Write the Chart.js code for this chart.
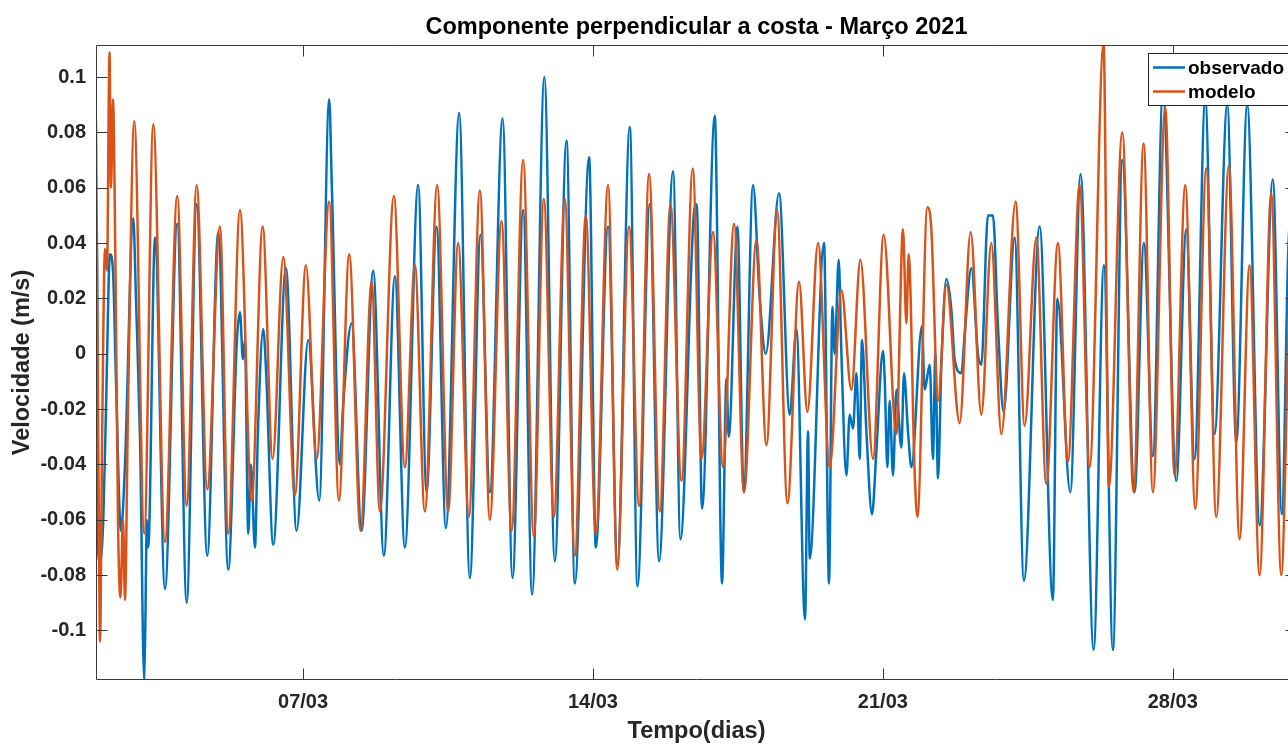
<!DOCTYPE html>
<html><head><meta charset="utf-8">
<script src="https://cdn.jsdelivr.net/npm/chart.js@4.4.1/dist/chart.umd.min.js"></script>
<style>html,body{margin:0;padding:0;overflow:hidden;background:#fff}#wrap{width:1300px;height:744px}</style>
</head><body><div id="wrap"><canvas id="c" width="1300" height="744"></canvas></div>
<script>
const titleText = 'Componente perpendicular a costa - Março 2021';
const xTitle = 'Tempo(dias)';
const yTitle = 'Velocidade (m/s)';
const seriesNames = ['observado', 'modelo'];
const xTickDays = [7, 14, 21, 28];
const xTickLabels = ['07/03', '14/03', '21/03', '28/03'];
const yTickValues = [-0.1, -0.08, -0.06, -0.04, -0.02, 0, 0.02, 0.04, 0.06, 0.08, 0.1];
const yTickLabels = ['-0.1', '-0.08', '-0.06', '-0.04', '-0.02', '0', '0.02', '0.04', '0.06', '0.08', '0.1'];

// observado (day of March, m/s)
const observadoDias = [2.000,2.024,2.048,2.097,2.176,2.241,2.338,2.410,2.483,2.603,
2.700,2.900,2.965,3.062,3.166,3.231,3.262,3.424,3.665,3.962,
4.189,4.431,4.686,4.952,5.193,5.403,5.476,5.548,5.596,5.676,
5.741,5.838,5.910,6.038,6.103,6.280,6.586,6.844,7.124,7.390,
7.631,7.696,7.889,7.962,8.172,8.413,8.693,8.951,9.217,9.458,
9.779,9.982,10.223,10.448,10.769,11.027,11.285,11.510,11.817,12.058,
12.314,12.531,12.826,13.079,13.361,13.562,13.907,14.069,14.365,14.592,
14.889,15.075,15.372,15.596,15.934,16.113,16.434,16.506,16.634,16.941,
17.117,17.223,17.279,17.489,17.641,17.865,18.027,18.172,18.493,18.751,
18.913,19.120,19.193,19.234,19.579,19.700,19.782,19.837,
19.934,19.999,20.120,20.199,20.279,20.361,20.441,20.496,20.602,20.738,
20.844,21.003,21.044,21.109,21.165,21.244,21.327,21.447,21.510,21.607,
21.689,21.945,22.010,22.131,22.210,22.268,22.331,22.413,22.534,22.654,
22.734,22.895,22.975,23.137,23.296,23.378,23.537,23.658,23.779,
23.916,24.182,24.406,
24.785,25.106,25.212,25.526,25.775,26.089,26.337,26.554,26.781,27.078,
27.303,27.520,27.761,28.085,28.326,28.527,28.785,29.009,29.316,29.533,
29.798,30.099,30.416,30.634,30.796,30.964];
const observadoVel = [0.046,0.035,-0.070,-0.075,-0.060,-0.020,0.036,0.030,-0.010,-0.064,
-0.040,0.049,0.020,-0.030,-0.118,-0.060,-0.070,0.042,-0.085,0.047,
-0.090,0.054,-0.073,0.044,-0.078,0.005,0.015,-0.002,0.005,-0.065,
-0.040,-0.070,-0.028,0.009,-0.005,-0.069,0.031,-0.064,0.005,-0.053,
0.092,0.060,-0.040,-0.020,0.011,-0.064,0.030,-0.073,0.028,-0.070,
0.061,-0.050,0.046,-0.063,0.087,-0.081,0.043,-0.050,0.085,-0.081,
0.052,-0.087,0.100,-0.075,0.077,-0.083,0.071,-0.070,0.046,-0.076,
0.082,-0.084,0.054,-0.075,0.066,-0.067,0.050,0.054,-0.056,0.086,
-0.083,-0.009,-0.030,0.046,-0.050,0.061,0.020,0.000,0.058,-0.022,
0.009,-0.096,-0.028,-0.074,0.040,-0.083,0.017,0.000,
0.034,0.000,-0.044,-0.022,-0.027,-0.007,-0.038,0.005,-0.028,-0.058,
-0.035,0.001,-0.009,-0.041,-0.017,-0.044,-0.013,-0.034,-0.007,-0.028,
-0.041,0.010,-0.013,-0.004,-0.038,0.000,-0.045,-0.004,0.027,0.016,
-0.002,-0.007,0.007,0.031,0.000,-0.004,0.050,0.050,0.010,
-0.021,0.042,-0.082,
0.046,-0.089,0.020,-0.050,0.065,-0.107,0.032,-0.107,0.070,-0.050,
0.040,-0.037,0.095,-0.046,0.045,-0.038,0.092,-0.029,0.090,-0.032,
0.090,-0.062,0.063,-0.058,0.040,0.060];

// modelo (day of March, m/s)
const modeloDias = [2.000,2.036,2.072,2.097,2.145,2.217,2.266,2.326,2.362,2.410,
2.471,2.531,2.591,2.652,2.700,2.772,2.924,3.166,3.383,3.665,
3.962,4.189,4.431,4.686,4.993,5.193,5.476,5.758,6.024,6.265,
6.521,6.803,7.069,7.327,7.631,7.865,8.114,8.389,8.655,8.855,
9.193,9.458,9.700,9.941,10.238,10.503,10.745,11.003,11.269,11.510,
11.792,12.034,12.314,12.572,12.813,13.055,13.320,13.562,13.827,14.069,
14.365,14.583,14.872,15.114,15.355,15.613,15.872,16.137,16.410,16.620,
16.900,17.141,17.407,17.648,17.947,18.189,18.445,18.696,18.976,19.178,
19.434,19.717,19.999,20.240,20.457,20.762,21.020,
21.327,21.486,21.568,21.623,21.768,21.834,22.075,22.171,22.331,22.534,
22.854,23.120,23.378,23.619,
23.861,24.206,24.423,24.706,24.947,25.227,25.468,25.751,25.992,26.330,
26.458,26.781,27.054,27.296,27.520,27.819,28.044,28.302,28.544,28.809,
29.050,29.355,29.613,29.854,30.096,30.378,30.619,30.820,30.964];
const modeloVel = [0.084,0.012,-0.068,-0.104,-0.035,0.038,0.030,0.109,0.060,0.092,
0.030,-0.060,-0.088,-0.060,-0.089,-0.020,0.084,-0.065,0.083,-0.068,
0.057,-0.055,0.061,-0.049,0.046,-0.065,0.052,-0.053,0.046,-0.038,
0.035,-0.051,0.032,-0.038,0.055,-0.053,0.036,-0.064,0.026,-0.057,
0.057,-0.041,0.032,-0.057,0.061,-0.057,0.040,-0.059,0.059,-0.060,
0.048,-0.064,0.070,-0.066,0.056,-0.059,0.056,-0.073,0.050,-0.065,
0.061,-0.078,0.046,-0.055,0.065,-0.057,0.054,-0.046,0.067,-0.038,
0.044,-0.041,0.047,-0.050,0.041,-0.033,0.052,-0.054,0.026,-0.021,
0.040,-0.041,0.023,-0.013,0.034,-0.038,0.043,
-0.029,0.045,0.011,0.036,-0.043,-0.059,0.053,0.045,-0.017,0.025,
-0.025,0.044,-0.022,0.040,
-0.029,0.055,-0.026,0.042,-0.047,0.040,-0.039,0.061,-0.041,0.112,
-0.048,0.080,-0.050,0.076,-0.050,0.089,-0.044,0.061,-0.056,0.067,
-0.059,0.068,-0.067,0.032,-0.080,0.058,-0.080,0.020,0.050];

const FONT = '"Liberation Sans", Arial, Helvetica, sans-serif';
const TXT = '#262626';
const toPts = (d, v) => d.map((x, i) => ({ x: x, y: v[i] }));

const axesBox = {
  id: 'axesBox',
  afterDatasetsDraw(chart) {
    const { ctx, chartArea: a, scales: { x, y } } = chart;
    ctx.save();
    ctx.strokeStyle = '#3a3a3a';
    ctx.lineWidth = 1;
    ctx.beginPath();
    const L = Math.round(a.left) + 0.5, R = Math.round(a.right) - 0.5;
    const T = Math.round(a.top) + 0.5, B = Math.round(a.bottom) - 0.5;
    ctx.rect(L, T, R - L, B - T);
    const tl = 11;
    y.ticks.forEach(t => {
      const py = Math.round(y.getPixelForValue(t.value)) + 0.5;
      ctx.moveTo(L, py); ctx.lineTo(L + tl, py);
      ctx.moveTo(R, py); ctx.lineTo(R - tl, py);
    });
    x.ticks.forEach(t => {
      const px = Math.round(x.getPixelForValue(t.value)) + 0.5;
      ctx.moveTo(px, B); ctx.lineTo(px, B - tl);
      ctx.moveTo(px, T); ctx.lineTo(px, T + tl);
    });
    ctx.stroke();
    ctx.restore();
  }
};

const boxLegend = {
  id: 'boxLegend',
  afterDraw(chart) {
    const { ctx, chartArea: a } = chart;
    const left = a.right - 149, top = a.top + 8.5, h = 52;
    ctx.save();
    ctx.fillStyle = '#fff';
    ctx.fillRect(left, top, 200, h);
    ctx.strokeStyle = '#262626';
    ctx.lineWidth = 1;
    ctx.strokeRect(left + 0.5, top, 200, h);
    ctx.font = 'bold 19px ' + FONT;
    ctx.textBaseline = 'middle';
    ctx.textAlign = 'left';
    chart.data.datasets.forEach((ds, i) => {
      const cy = top + 14 + i * 24;
      ctx.strokeStyle = ds.borderColor;
      ctx.lineWidth = 2.5;
      ctx.beginPath();
      ctx.moveTo(left + 5, cy); ctx.lineTo(left + 37, cy);
      ctx.stroke();
      ctx.fillStyle = '#000';
      ctx.fillText(ds.label, left + 40, cy + 1);
    });
    ctx.restore();
  }
};

new Chart(document.getElementById('c'), {
  type: 'line',
  data: {
    datasets: [
      { label: seriesNames[0], data: toPts(observadoDias, observadoVel), borderColor: '#0072BD', backgroundColor: '#0072BD',
        borderWidth: 2.5, pointRadius: 0, cubicInterpolationMode: 'monotone', order: 2, clip: 0 },
      { label: seriesNames[1], data: toPts(modeloDias, modeloVel), borderColor: '#D95319', backgroundColor: '#D95319',
        borderWidth: 2.5, pointRadius: 0, cubicInterpolationMode: 'monotone', order: 1, clip: 0 }
    ]
  },
  options: {
    responsive: false,
    animation: false,
    events: [],
    layout: { padding: { left: 0, right: 3, top: 0, bottom: 0 } },
    plugins: {
      legend: { display: false },
      tooltip: { enabled: false },
      title: { display: true, text: titleText, fullSize: false, color: '#000',
        font: { family: FONT, size: 23.5, weight: 'bold', lineHeight: 1.2 }, padding: { top: 13, bottom: 3.8 } }
    },
    scales: {
      x: {
        type: 'linear', min: 2, max: 31,
        grid: { display: false, drawTicks: false }, border: { display: false },
        afterBuildTicks: s => { s.ticks = xTickDays.map(v => ({ value: v })); },
        ticks: { autoSkip: false, maxRotation: 0, padding: 10, color: TXT,
          font: { family: FONT, size: 20, weight: 'bold' },
          callback: (v, i) => xTickLabels[i] },
        title: { display: true, text: xTitle, color: TXT, font: { family: FONT, size: 23.5, weight: 'bold', lineHeight: 1.1 }, padding: { top: 0, bottom: 0 } },
        afterFit: s => { s.height = 64; }
      },
      y: {
        type: 'linear', min: -0.1179, max: 0.1116,
        grid: { display: false, drawTicks: false }, border: { display: false },
        afterBuildTicks: s => { s.ticks = yTickValues.map(v => ({ value: v })); },
        ticks: { autoSkip: false, padding: 10, color: TXT,
          font: { family: FONT, size: 20, weight: 'bold' },
          callback: (v, i) => yTickLabels[i] },
        title: { display: true, text: yTitle, color: TXT, font: { family: FONT, size: 23.5, weight: 'bold', lineHeight: 1.2 }, padding: { top: 8, bottom: 0 } },
        afterFit: s => { s.width = 96; }
      }
    }
  },
  plugins: [axesBox, boxLegend]
});
</script>
</body></html>
